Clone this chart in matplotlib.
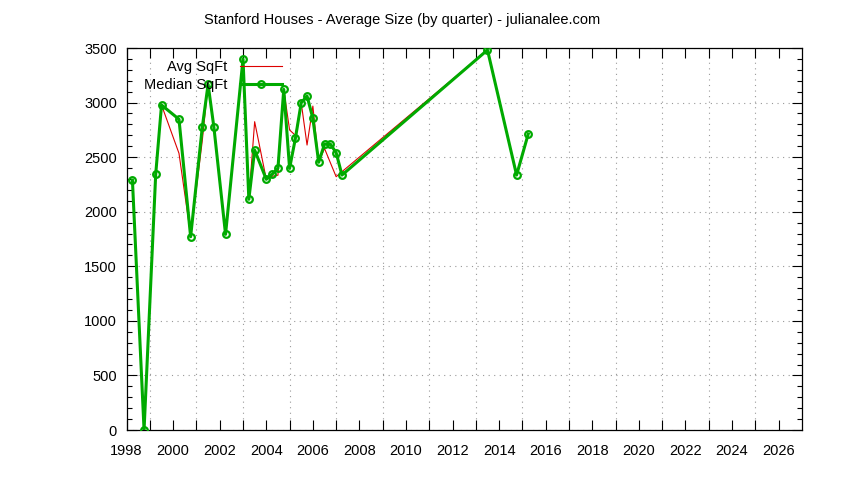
import matplotlib
matplotlib.use("Agg")
import matplotlib.pyplot as plt
from matplotlib.ticker import MultipleLocator, FixedLocator

plt.rcParams['font.family'] = ['Liberation Sans', 'DejaVu Sans']

quarters = [1998.25, 1998.75, 1999.25, 1999.5, 2000.25, 2000.75, 2001.25, 2001.5,
            2001.75, 2002.25, 2003.0, 2003.25, 2003.5, 2004.0, 2004.25, 2004.5,
            2004.75, 2005.0, 2005.25, 2005.5, 2005.75, 2006.0, 2006.25, 2006.5,
            2006.75, 2007.0, 2007.25, 2013.5, 2014.75, 2015.25]
avg_sqft = [2290, 0, 2343, 2978, 2535, 1785, 2650, 3167, 2773, 1793, 3399, 2114,
            2825, 2297, 2325, 2335, 3121, 2749, 2700, 2999, 2611, 2968, 2453, 2580,
            2450, 2321, 2367, 3482, 2336, 2712]
median_sqft = [2290, 0, 2343, 2978, 2847, 1771, 2773, 3167, 2773, 1793, 3399, 2114,
               2565, 2297, 2343, 2397, 3121, 2397, 2672, 2999, 3060, 2856, 2453, 2620,
               2620, 2541, 2336, 3482, 2336, 2712]

title = "Stanford Houses - Average Size (by quarter) - julianalee.com"
x_major = list(range(1998, 2027, 2))
x_minor = list(range(1999, 2027, 2))

fig = plt.figure(figsize=(8.44, 4.8), dpi=100)
ax = fig.add_axes([0.150, 0.104, 0.800, 0.796])

red = '#dd0000'
green = '#00aa00'

ax.plot(quarters, avg_sqft, color=red, lw=0.8, label='Avg SqFt', zorder=3)
ax.plot(quarters, median_sqft, color=green, lw=2.2, marker='o', markersize=4.8,
        markerfacecolor='none', markeredgecolor=green, markeredgewidth=1.6,
        label='Median SqFt', zorder=4)

ax.set_xlim(1998, 2027)
ax.set_ylim(0, 3500)

ax.xaxis.set_major_locator(FixedLocator(x_major))
ax.xaxis.set_minor_locator(FixedLocator(x_minor))
ax.yaxis.set_major_locator(MultipleLocator(500))
ax.yaxis.set_minor_locator(MultipleLocator(100))

ax.tick_params(axis='both', which='both', direction='in', top=True, right=True,
               colors='black', labelsize=10.5)
ax.tick_params(axis='x', which='both', length=7, width=0.8, pad=10)
ax.tick_params(axis='y', which='major', length=7, width=0.8, pad=7)
ax.tick_params(axis='y', which='minor', length=3.5, width=0.8)

ax.grid(False)
ax.xaxis.grid(True, which='minor', linestyle=(0, (1, 4)), color='#999999', lw=0.8)
ax.yaxis.grid(True, which='major', linestyle=(0, (1, 4)), color='#999999', lw=0.8)
ax.set_axisbelow(True)

for s in ax.spines.values():
    s.set_linewidth(0.9)
    s.set_color('black')

leg = ax.legend(loc='upper right', bbox_to_anchor=(0.2365, 0.981), frameon=False,
                markerfirst=False, fontsize=10.5, handlelength=2.9,
                handletextpad=0.85, labelspacing=0.3, borderpad=0.3,
                borderaxespad=0.0, numpoints=1)

fig.text(402 / 844, 1 - 20 / 480, title, ha='center', va='center', fontsize=10.5)

fig.savefig('out.png', dpi=100)
